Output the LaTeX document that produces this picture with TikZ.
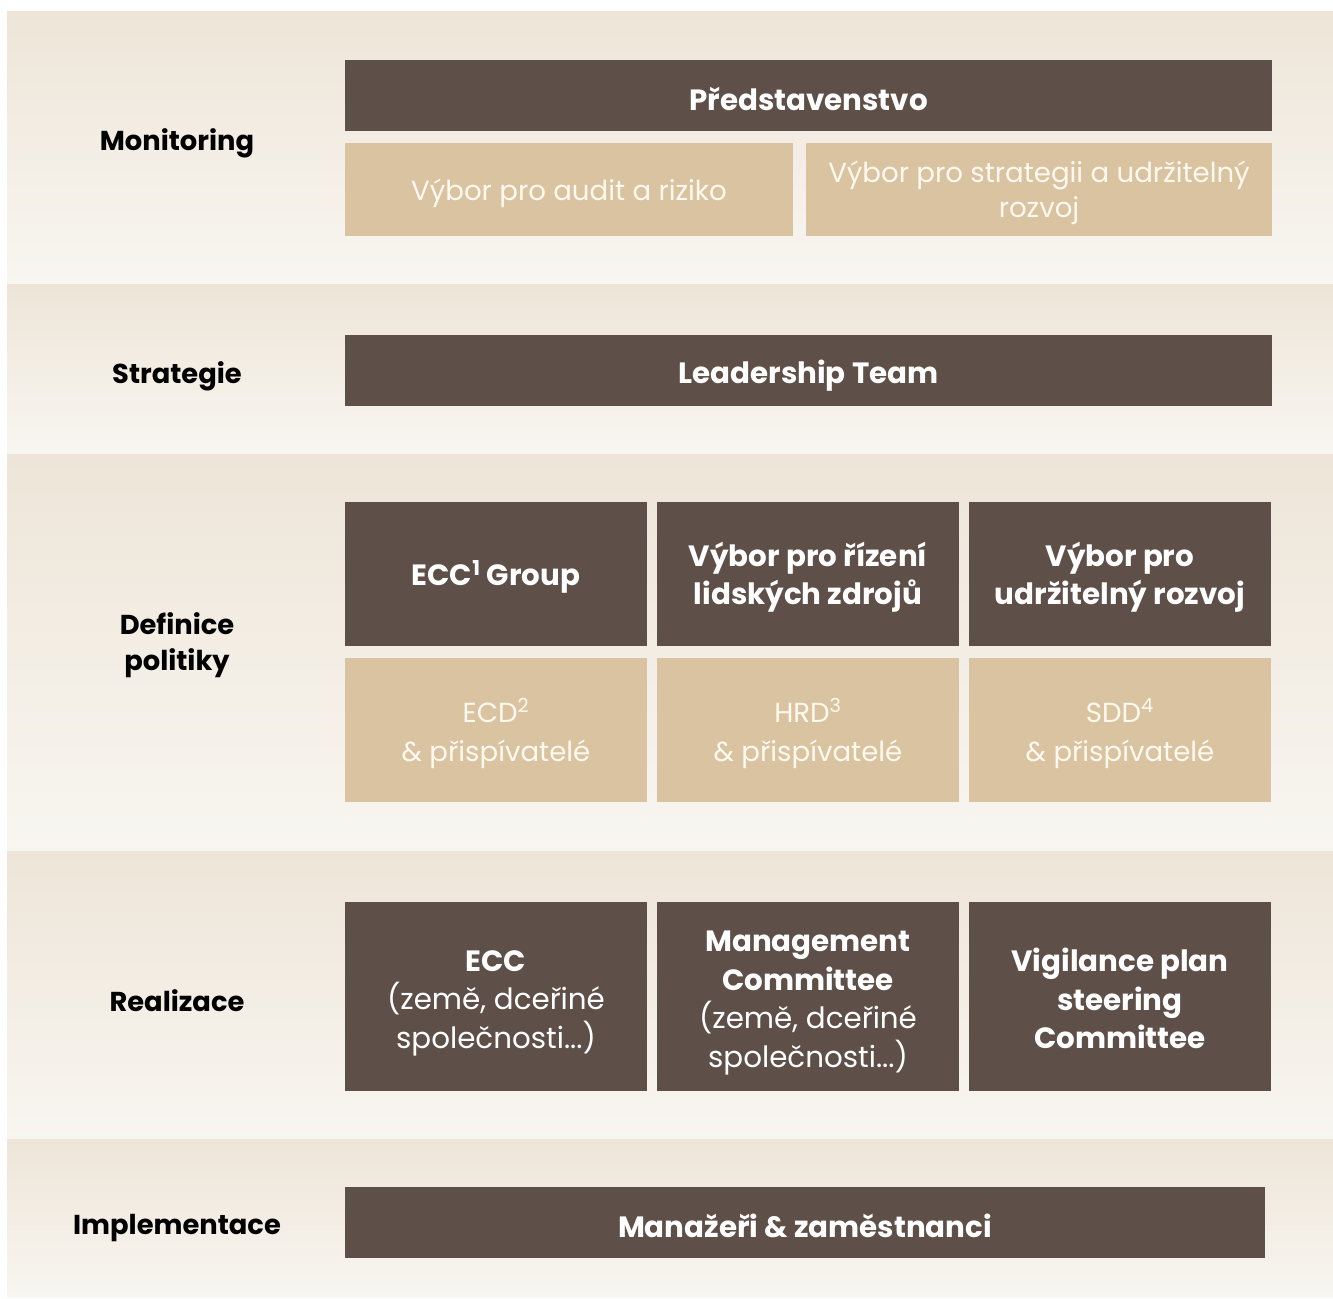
\documentclass[tikz,border=0pt]{standalone}
\usepackage{fontspec}
\setmainfont{Poppins}[BoldFont={Poppins Bold}]
\definecolor{dark}{HTML}{5E5049}
\definecolor{tanbox}{HTML}{DAC3A0}
\definecolor{bandtop}{HTML}{EEE5D8}
\definecolor{bandbot}{HTML}{F8F6F1}
\definecolor{tantext}{HTML}{FFF9F0}
\tikzset{
  band/.style={top color=bandtop, bottom color=bandbot, draw=none},
  darkbox/.style={fill=dark, inner sep=0pt},
  lightbox/.style={fill=tanbox, inner sep=0pt},
  darktext/.style={text=white, inner sep=0pt, align=center,
    font=\bfseries\fontsize{22}{29}\selectfont},
  lighttext/.style={text=tantext, inner sep=0pt, align=center,
    font=\fontsize{20.7}{29}\selectfont},
  rowlabel/.style={text=black, inner sep=0pt, align=center,
    font=\bfseries\fontsize{20.5}{27}\selectfont},
}
% name, x1, y1, x2, y2, box style, text style, text
\newcommand\bx[8]{%
  \node[#6, minimum width={(#4-#2)*0.75pt}, minimum height={(#5-#3)*0.75pt}] (#1) at ({(#2+#4)/2},{(#3+#5)/2}) {};
  \node[#7] (#1-t) at ([yshift=-2.5pt]#1.center) {#8};}
\newcommand\rg{\mdseries}
\begin{document}
\begin{tikzpicture}[x=0.75pt,y=-0.75pt]
\useasboundingbox (0,0) rectangle (1333,1298);
% bands
\shade[band] (7,12) rectangle (1333,284);
\shade[band] (7,284) rectangle (1333,454);
\shade[band] (7,454) rectangle (1333,851);
\shade[band] (7,851) rectangle (1333,1139);
\shade[band] (7,1139) rectangle (1333,1297);
% labels
\node[rowlabel] (lmon) at (177,143) {Monitoring};
\node[rowlabel] (lstr) at (177,376) {Strategie};
\node[rowlabel] (ldef) at (177,645) {Definice\\politiky};
\node[rowlabel] (lrea) at (177,1001) {Realizace};
\node[rowlabel] (limp) at (177,1228) {Implementace};
% monitoring
\bx{pred}{345}{60}{1272}{131}{darkbox}{darktext}{Představenstvo}
\bx{audit}{345}{143}{793}{236}{lightbox}{lighttext}{Výbor pro audit a riziko}
\bx{strat}{806}{143}{1272}{236}{lightbox}{lighttext,font=\fontsize{20.7}{26.5}\selectfont}{Výbor pro strategii a udržitelný\\rozvoj}
% strategie
\bx{lead}{345}{335}{1272}{406}{darkbox}{darktext,yshift=-1.5pt}{Leadership Team}
% definice
\bx{ecc}{345}{502}{647}{646}{darkbox}{darktext}{ECC\textsuperscript{1} Group}
\bx{hr}{657}{502}{959}{646}{darkbox}{darktext}{Výbor pro řízení\\lidských zdrojů}
\bx{sd}{969}{502}{1271}{646}{darkbox}{darktext}{Výbor pro\\udržitelný rozvoj}
\bx{ecd}{345}{658}{647}{802}{lightbox}{lighttext}{ECD\textsuperscript{2}\\\& přispívatelé}
\bx{hrd}{657}{658}{959}{802}{lightbox}{lighttext}{HRD\textsuperscript{3}\\\& přispívatelé}
\bx{sdd}{969}{658}{1271}{802}{lightbox}{lighttext}{SDD\textsuperscript{4}\\\& přispívatelé}
% realizace
\bx{eccr}{345}{902}{647}{1091}{darkbox}{darktext,yshift=-2.5pt}{ECC\\\rg (země, dceřiné\\\rg společnosti...)}
\bx{mc}{657}{902}{959}{1091}{darkbox}{darktext,yshift=-2.5pt}{Management\\Committee\\\rg (země, dceřiné\\\rg společnosti...)}
\bx{vig}{969}{902}{1271}{1091}{darkbox}{darktext,yshift=1pt}{Vigilance plan\\steering\\Committee}
% implementace
\bx{man}{345}{1187}{1265}{1258}{darkbox}{darktext}{Manažeři \& zaměstnanci}
\end{tikzpicture}
\end{document}
